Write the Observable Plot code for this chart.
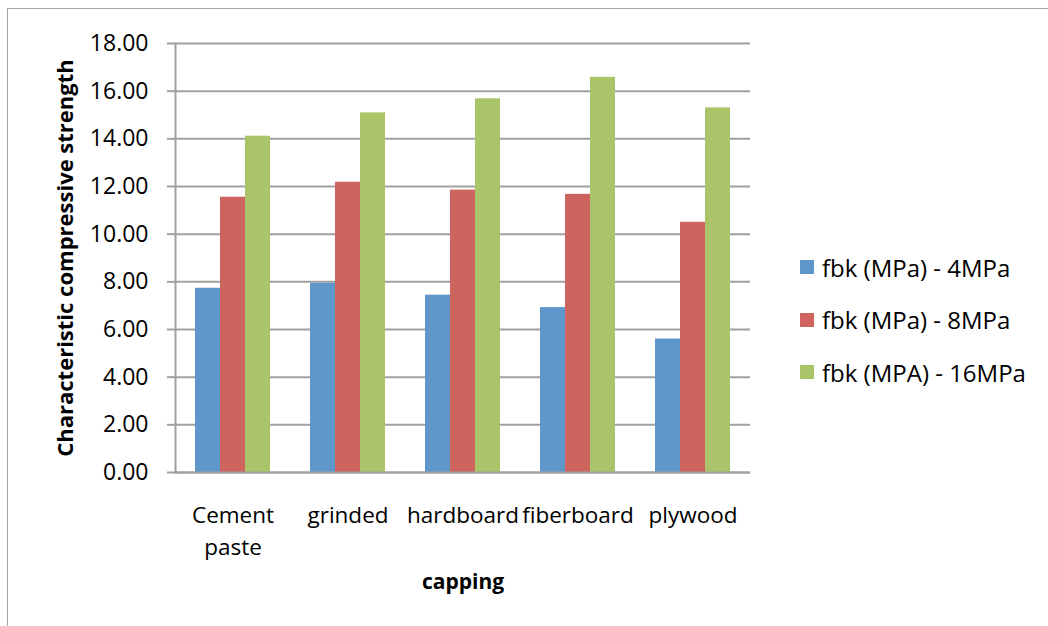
<!DOCTYPE html>
<html>
<head>
<meta charset="utf-8">
<script src="https://cdn.jsdelivr.net/npm/d3@7"></script>
<script src="https://cdn.jsdelivr.net/npm/@observablehq/plot@0.6"></script>
<style>
  html, body { margin: 0; padding: 0; background: #fff; overflow: hidden; }
  #wrap { position: relative; width: 1048px; height: 626px; font-family: "Open Sans", sans-serif; }
  #border { position: absolute; left: 7px; top: 8px; width: 1100px; height: 700px;
            border-left: 1px solid #a6a6a6; border-top: 1px solid #a6a6a6; pointer-events: none; }
  #chart { position: absolute; left: 0; top: 0; }
  #legend { position: absolute; left: 800px; top: 241px; font-size: 24px; color: #000; }
  #legend .row { display: flex; align-items: center; height: 52.5px; margin: 0; }
  #legend .sw { width: 14px; height: 14px; margin-right: 8px; flex: none; }
</style>
</head>
<body>
<div id="wrap">
  <div id="chart"></div>
  <div id="legend"></div>
  <div id="border"></div>
</div>
<script>
const categories = ["Cement paste", "grinded", "hardboard", "fiberboard", "plywood"];
const series = ["fbk (MPa) - 4MPa", "fbk (MPa) - 8MPa", "fbk (MPA) - 16MPa"];
const values4MPa = [7.73, 7.94, 7.44, 6.92, 5.60];
const values8MPa = [11.55, 12.18, 11.85, 11.67, 10.50];
const values16MPa = [14.11, 15.09, 15.68, 16.58, 15.30];
const colors = ["#6097CB", "#CD645E", "#AAC46A"];
const yTicks = [0, 2, 4, 6, 8, 10, 12, 14, 16, 18];
const yTitle = "Characteristic compressive strength";
const xTitle = "capping";

const seriesValues = [values4MPa, values8MPa, values16MPa];
const data = categories.flatMap((c, i) =>
  series.map((s, j) => ({category: c, series: s, value: seriesValues[j][i]}))
);

const chart = Plot.plot({
  width: 1048,
  height: 626,
  marginLeft: 175,
  marginRight: 298,
  marginTop: 43,
  marginBottom: 154,
  style: {fontFamily: "'Open Sans', sans-serif", color: "#000", background: "transparent"},
  fx: {domain: categories, padding: 0},
  x: {domain: series, paddingInner: 0, paddingOuter: 0.74, axis: null},
  y: {domain: [0, 18]},
  color: {domain: series, range: colors},
  marks: [
    Plot.gridY(yTicks, {stroke: "#a0a0a0", strokeOpacity: 1, strokeWidth: 2}),
    Plot.barY(data, {fx: "category", x: "series", y: "value", fill: "series"}),
    Plot.ruleY([0], {stroke: "#a0a0a0", strokeWidth: 2}),
    Plot.frame({anchor: "left", facetAnchor: "left", stroke: "#a0a0a0", strokeWidth: 2}),
    Plot.axisY({ticks: yTicks, tickFormat: d => d.toFixed(2), tickSize: 8, tickPadding: 19,
      fontSize: 23, stroke: "#a0a0a0", strokeWidth: 2, fill: "#000", label: null}),
    Plot.axisY({ticks: [], label: yTitle, labelArrow: "none", labelAnchor: "center", labelOffset: 118,
      fontSize: 22, fontWeight: "bold", fill: "#000"}),
    Plot.axisFx({anchor: "bottom", tickSize: 0, tickPadding: 27, fontSize: 22.5, lineHeight: 1.45,
      tickFormat: d => d.replace(" ", "\n"), fill: "#000", label: null}),
    Plot.axisFx({anchor: "bottom", ticks: [], label: xTitle, labelArrow: "none", labelAnchor: "center", labelOffset: 116,
      fontSize: 21, fontWeight: "bold", fill: "#000"})
  ]
});
document.getElementById("chart").appendChild(chart);

const legend = document.getElementById("legend");
series.forEach((s, i) => {
  const row = document.createElement("div");
  row.className = "row";
  const sw = document.createElement("div");
  sw.className = "sw";
  sw.style.background = colors[i];
  const t = document.createElement("span");
  t.textContent = s;
  row.appendChild(sw);
  row.appendChild(t);
  legend.appendChild(row);
});
</script>
</body>
</html>
